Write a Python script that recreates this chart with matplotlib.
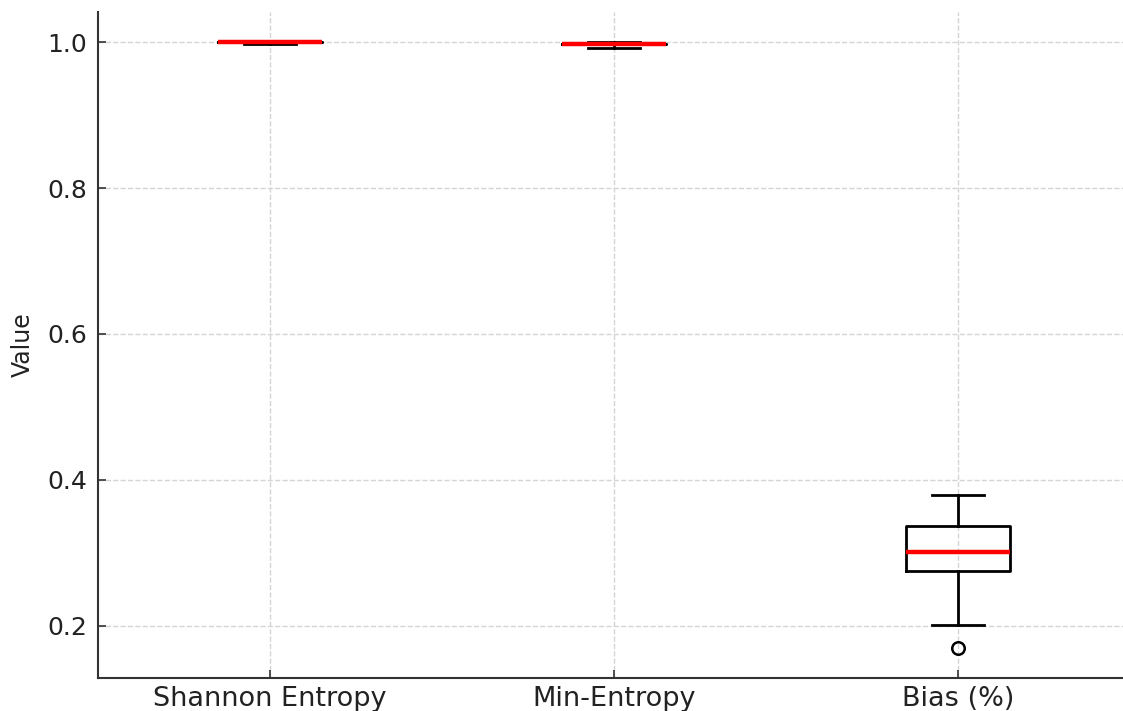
import matplotlib.pyplot as plt

# Summary statistics of the randomness tests
labels = ['Shannon Entropy', 'Min-Entropy', 'Bias (%)']
whislo = [0.9978, 0.9925, 0.2015]
q1 = [0.9995, 0.9970, 0.2745]
med = [0.9996, 0.9975, 0.3015]
q3 = [0.9997, 0.9980, 0.3365]
whishi = [1.0000, 1.0000, 0.3790]
fliers = [[], [], [0.1700]]

stats = []
for i, name in enumerate(labels):
    stats.append({'label': name, 'whislo': whislo[i], 'q1': q1[i], 'med': med[i],
                  'q3': q3[i], 'whishi': whishi[i], 'fliers': fliers[i]})

fig = plt.figure(figsize=(11.23, 7.11), dpi=100)
ax = fig.add_axes([0.0873, 0.0464, 0.919, 0.937])

line_kw = dict(color='black', linewidth=2)
ax.bxp(stats, positions=[1, 2, 3], widths=0.3,
       boxprops=line_kw, whiskerprops=line_kw, capprops=line_kw,
       medianprops=dict(color='red', linewidth=3.2),
       flierprops=dict(marker='o', markersize=9, markerfacecolor='none',
                       markeredgecolor='black', markeredgewidth=1.8))

ax.set_xlim(0.5, 3.5)
ax.set_yticks([0.2, 0.4, 0.6, 0.8, 1.0])
ax.set_ylabel('Value', fontsize=17, color='#222222', labelpad=9)
ax.grid(True, linestyle='--', color='#d4d4d4', linewidth=1)
ax.set_axisbelow(True)

for side in ['top', 'right']:
    ax.spines[side].set_visible(False)
for side in ['left', 'bottom']:
    ax.spines[side].set_linewidth(1.5)
    ax.spines[side].set_color('#333333')
ax.tick_params(direction='in', length=6, width=1.2, color='#333333',
               labelsize=18, labelcolor='#222222', pad=8)
ax.tick_params(axis='x', labelsize=19.5, pad=6)

fig.savefig('out.png', dpi=100)
